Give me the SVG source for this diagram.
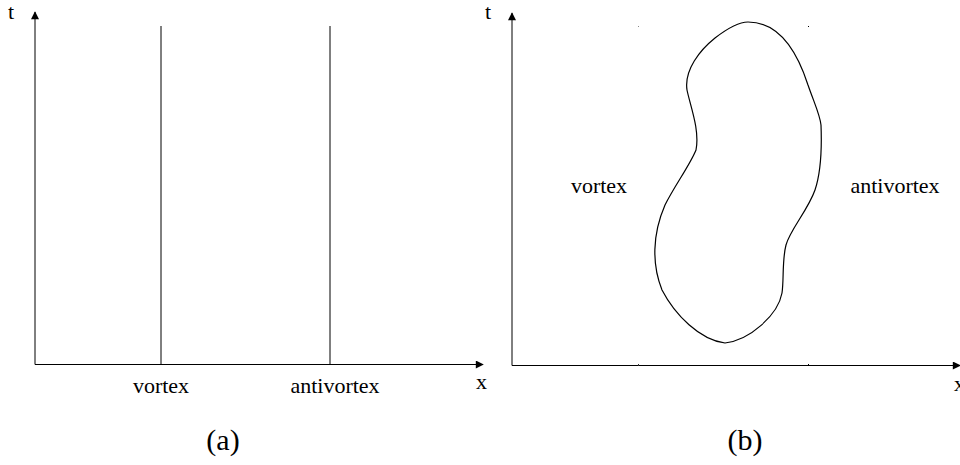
<svg xmlns="http://www.w3.org/2000/svg" width="960" height="465" viewBox="0 0 960 465">
<style>
.ax{stroke:#000;stroke-width:1;fill:none}
.ln{stroke:#000;stroke-width:1.2;fill:none}
.tx{font-family:"Liberation Serif","Times New Roman",serif;fill:#000}
.lb{font-size:22px}
.cap{font-size:30px}
</style>
<defs>
<marker id="ah" viewBox="0 0 10 10" refX="9" refY="5" markerWidth="9" markerHeight="8" markerUnits="userSpaceOnUse" orient="auto">
<path d="M0,0 L10,5 L0,10 Z" fill="#000"/>
</marker>
</defs>
<rect width="960" height="465" fill="#fff"/>
<g id="connectors">
<line class="ax" x1="35" y1="364.5" x2="35" y2="12" marker-end="url(#ah)"/>
<line class="ax" x1="35" y1="364.5" x2="483" y2="364.5" marker-end="url(#ah)"/>
<line class="ax" x1="512" y1="365.5" x2="512" y2="13" marker-end="url(#ah)"/>
<line class="ax" x1="512" y1="365.5" x2="960" y2="365.5" marker-end="url(#ah)"/>
</g>
<g id="panel-a">
<line class="ax" x1="161" y1="26" x2="161" y2="364"/>
<line class="ax" x1="330" y1="26" x2="330" y2="364"/>
<text class="tx lb" x="8" y="19">t</text>
<text class="tx lb" x="476" y="389">x</text>
<text class="tx lb" x="161" y="393" text-anchor="middle">vortex</text>
<text class="tx lb" x="335" y="393" text-anchor="middle">antivortex</text>
<text class="tx cap" x="223" y="450" text-anchor="middle">(a)</text>
</g>
<g id="panel-b">
<path class="ln" d="M748,22 C775,22 795,45 808,85 C815,105 820,115 821,125 C822,150 820,175 815,190 C808,210 790,230 786,245 C782,260 784,280 782,293 C778,315 750,340 725,343 C700,340 675,315 662,290 C652,265 652,235 665,205 C675,185 690,165 696,150 C700,130 690,105 687,90 C684,70 700,50 715,38 C728,28 740,22 748,22 Z"/>
<rect x="638" y="26" width="1" height="1" fill="#888"/>
<rect x="808" y="26" width="1" height="1" fill="#000"/>
<rect x="638" y="364" width="1" height="2" fill="#333"/>
<rect x="808" y="364" width="1" height="2" fill="#000"/>
<text class="tx lb" x="485" y="19">t</text>
<text class="tx lb" x="954" y="391">x</text>
<text class="tx lb" x="599" y="193" text-anchor="middle">vortex</text>
<text class="tx lb" x="895" y="193" text-anchor="middle">antivortex</text>
<text class="tx cap" x="745" y="450" text-anchor="middle">(b)</text>
</g>
</svg>
